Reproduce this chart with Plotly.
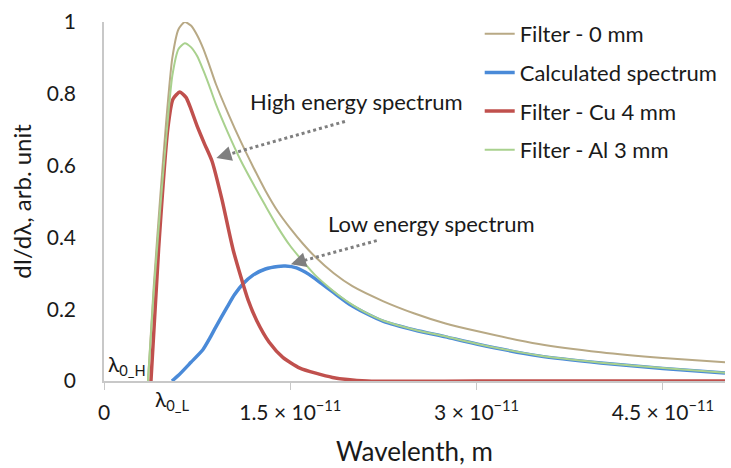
import plotly.graph_objects as go

# wavelength in units of 1e-12 m (picometres), intensity in arb. unit
wl_0mm = [3.54, 4.0, 4.5, 5.0, 5.5, 6.0, 6.5, 7.0, 7.5, 8.0, 8.5, 9.0, 10.0, 11.0, 12.0, 13.0, 14.0, 15.0,
          16.0, 17.0, 18.5, 20.0, 22.5, 25.0, 27.5, 30.0, 35.0, 40.0, 45.0, 50.0]
v_0mm = [0.0, 0.26, 0.5, 0.72, 0.9, 0.98, 1.0, 0.99, 0.963, 0.925, 0.878, 0.828, 0.745, 0.668, 0.597, 0.53,
         0.472, 0.425, 0.383, 0.346, 0.3, 0.264, 0.222, 0.188, 0.16, 0.139, 0.103, 0.08, 0.064, 0.052]

wl_calc = [5.47, 6.0, 7.0, 7.96, 8.5, 9.0, 9.9, 10.5, 11.2, 12.0, 13.0, 14.0, 14.6, 15.5, 16.5, 17.5, 18.5,
           19.8, 21.0, 22.5, 25.0, 27.5, 30.0, 35.0, 40.0, 45.0, 50.0]
v_calc = [0.0, 0.016, 0.052, 0.087, 0.118, 0.15, 0.205, 0.24, 0.271, 0.295, 0.312, 0.319, 0.32, 0.315, 0.297,
          0.272, 0.246, 0.213, 0.19, 0.166, 0.142, 0.123, 0.103, 0.07, 0.05, 0.035, 0.022]

wl_cu = [3.78, 4.4, 5.15, 5.55, 6.11, 6.6, 6.92, 7.5, 8.1, 8.7, 9.5, 10.4, 11.6, 12.3, 13.3, 14.4, 15.77,
         18.4, 21.2, 30.0, 50.0]
v_cu = [0.0, 0.37, 0.707, 0.785, 0.805, 0.79, 0.765, 0.71, 0.66, 0.612, 0.505, 0.365, 0.226, 0.168, 0.108,
        0.066, 0.036, 0.01, 0.0, 0.0, 0.0]

wl_al = [3.54, 4.0, 4.5, 5.0, 5.5, 6.0, 6.5, 7.0, 7.5, 8.0, 8.5, 9.0, 10.0, 11.0, 12.0, 13.0, 14.0, 15.0,
         16.0, 17.0, 18.0, 19.0, 20.0, 21.0, 22.5, 25.0, 27.5, 30.0, 35.0, 40.0, 45.0, 50.0]
v_al = [0.0, 0.245, 0.47, 0.675, 0.85, 0.925, 0.941, 0.93, 0.905, 0.865, 0.82, 0.772, 0.69, 0.615, 0.55,
        0.488, 0.428, 0.376, 0.334, 0.295, 0.264, 0.236, 0.212, 0.192, 0.168, 0.143, 0.124, 0.104, 0.071,
        0.051, 0.036, 0.023]

x_tickvals = [0, 1.5e-11, 3e-11, 4.5e-11]
x_ticktext = ["0", "1.5 × 10<sup>−11</sup>", "3 × 10<sup>−11</sup>", "4.5 × 10<sup>−11</sup>"]
y_tickvals = [0, 0.2, 0.4, 0.6, 0.8, 1]
y_ticktext = ["0", "0.2", "0.4", "0.6", "0.8", "1"]

S = 1e-12
FONT = "Lato"

fig = go.Figure()
series = [
    ("Filter - 0 mm", wl_0mm, v_0mm, "#B8A985", 2),
    ("Calculated spectrum", wl_calc, v_calc, "#4A8AD8", 3.5),
    ("Filter - Cu 4 mm", wl_cu, v_cu, "#C0504D", 3.5),
    ("Filter - Al 3 mm", wl_al, v_al, "#A9D18E", 2),
]
for name, xs, ys, col, w in series:
    fig.add_trace(go.Scatter(
        x=[a * S for a in xs], y=ys, mode="lines", name=name,
        line=dict(color=col, width=w, shape="spline", smoothing=0.6),
        cliponaxis=False, legendgroup=name,
    ))

fig.update_layout(
    width=731, height=468,
    margin=dict(l=104, r=6, t=22, b=87),
    paper_bgcolor="white", plot_bgcolor="white",
    font=dict(family=FONT, color="#1a1a1a", size=22),
    showlegend=True,
    legend=dict(x=0.605, y=1.025, xanchor="left", yanchor="top",
                font=dict(size=22, family=FONT), tracegroupgap=7,
                bgcolor="rgba(0,0,0,0)", itemwidth=30),
    xaxis=dict(range=[0, 5e-11], tickvals=x_tickvals, ticktext=x_ticktext,
               showgrid=False, zeroline=False, showline=True, linecolor="#C8C8C8",
               linewidth=1.5, ticks="outside", ticklen=7, tickcolor="#C8C8C8",
               tickfont=dict(size=21), ticklabelstandoff=5,
               title=dict(text="Wavelenth, m", font=dict(size=26), standoff=20)),
    yaxis=dict(range=[0, 1], tickvals=y_tickvals, ticktext=y_ticktext,
               showgrid=False, zeroline=False, showline=True, linecolor="#C8C8C8",
               linewidth=1.5, ticks="", tickfont=dict(size=21), ticklabelstandoff=22,
               title=dict(text="dI/dλ, arb. unit", font=dict(size=24), standoff=8)),
)

# dotted arrows
arrows = [((19.4, 0.723), (9.3, 0.624)), ((21.96, 0.391), (15.3, 0.328))]
for (x0, y0), (x1, y1) in arrows:
    fig.add_shape(type="line", x0=x0 * S, y0=y0, x1=x1 * S, y1=y1,
                  line=dict(color="#7F7F7F", width=3, dash="dot"))
    fig.add_annotation(x=(x1 - 0.25) * S, y=y1 - 0.003, ax=x1 * S + 0.6 * S, ay=y1 + 0.006,
                       axref="x", ayref="y", xref="x", yref="y",
                       showarrow=True, arrowhead=2, arrowsize=1.2, arrowwidth=2.5,
                       arrowcolor="#7F7F7F", text="")

fig.add_annotation(x=(356 - 104) / 621, y=(381 - 101) / 359, xref="paper", yref="paper",
                   yanchor="middle", text="High energy spectrum", showarrow=False, font=dict(size=22))
fig.add_annotation(x=(431 - 104) / 621, y=(381 - 224) / 359, xref="paper", yref="paper",
                   yanchor="middle", text="Low energy spectrum", showarrow=False, font=dict(size=22))
fig.add_annotation(x=(106 - 104) / 621, y=0.0, xref="paper", yref="paper",
                   xanchor="left", yanchor="bottom", text="λ<sub>0_H</sub>", showarrow=False,
                   font=dict(size=21))
fig.add_annotation(x=(153 - 104) / 621, y=(381 - 384) / 359, xref="paper", yref="paper",
                   xanchor="left", yanchor="top", text="λ<sub>0_L</sub>", showarrow=False,
                   font=dict(size=21))

fig.write_html("out.html")
